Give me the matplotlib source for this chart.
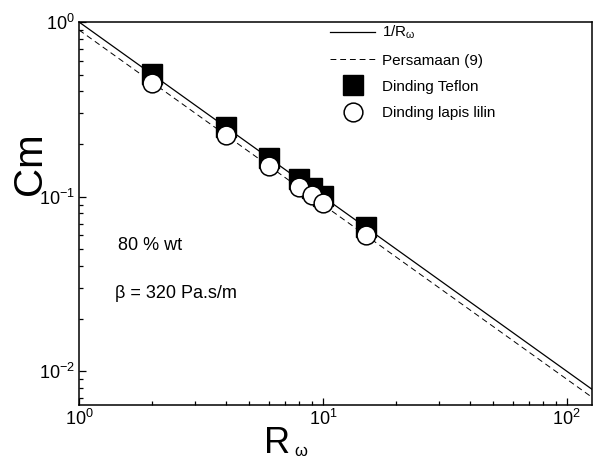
import matplotlib
matplotlib.use("Agg")
import matplotlib.pyplot as plt
import numpy as np

plt.rcParams['font.family'] = ['Liberation Sans', 'DejaVu Sans']
plt.rcParams['mathtext.fontset'] = 'custom'
plt.rcParams['mathtext.rm'] = 'Liberation Sans'
plt.rcParams['mathtext.it'] = 'Liberation Sans:italic'
plt.rcParams['mathtext.default'] = 'regular'

# measured mixing coefficient vs R_omega
r_teflon = [2, 4, 6, 8, 9, 10, 15]
cm_teflon = [0.503, 0.252, 0.167, 0.126, 0.112, 0.101, 0.0668]
r_lilin = [2, 4, 6, 8, 9, 10, 15]
cm_lilin = [0.450, 0.226, 0.150, 0.114, 0.102, 0.092, 0.0603]

# theory lines: 1/R_omega and eq. (9), which runs about 0.9/R_omega
r_line = np.array([1.0, 130.0])
k_eq9 = 0.9

fig = plt.figure(figsize=(5.93, 4.61), dpi=100)
ax = fig.add_axes([79 / 593, 1 - 405 / 461, 513 / 593, 383 / 461])

ax.plot(r_line, 1 / r_line, '-', color='k', lw=0.9, label=r'1/R$_{\mathrm{\omega}}$')
ax.plot(r_line, k_eq9 / r_line, '--', color='k', lw=0.7, dashes=(6, 4),
        label='Persamaan (9)')
ax.plot(r_teflon, cm_teflon, 's', color='k', ms=14, mec='k',
        label='Dinding Teflon', zorder=3)
ax.plot(r_lilin, cm_lilin, 'o', color='white', ms=13.5, mec='k', mew=1.1,
        label='Dinding lapis lilin', zorder=4)

ax.set_xscale('log')
ax.set_yscale('log')
ax.set_xlim(1, 127)
ax.set_ylim(0.0064, 1)

for s in ax.spines.values():
    s.set_linewidth(1.1)
ax.tick_params(which='both', direction='in', top=False, right=False, width=0.9)
ax.tick_params(which='major', length=5, labelsize=13, pad=3)
ax.tick_params(which='minor', length=3)

ax.legend(loc='upper left', bbox_to_anchor=(330 / 593, 1 - 24 / 461),
          bbox_transform=fig.transFigure, frameon=False, fontsize=11,
          handlelength=2.95, handletextpad=0.45, labelspacing=0.8,
          borderpad=0, borderaxespad=0)

fig.text(30 / 593, 1 - 164 / 461, 'Cm', fontsize=29, rotation=90,
         ha='center', va='center')
fig.text(277 / 593, 1 - 443 / 461, 'R', fontsize=26, ha='center', va='center')
fig.text(301 / 593, 1 - 451 / 461, 'ω', fontsize=12, ha='center', va='center')

ax.text(118 / 593, 1 - 246 / 461, '80 % wt', fontsize=13,
        transform=fig.transFigure, ha='left', va='center')
ax.text(115 / 593, 1 - 293 / 461, 'β = 320 Pa.s/m', fontsize=13,
        transform=fig.transFigure, ha='left', va='center')

fig.savefig('out.png', dpi=100)
